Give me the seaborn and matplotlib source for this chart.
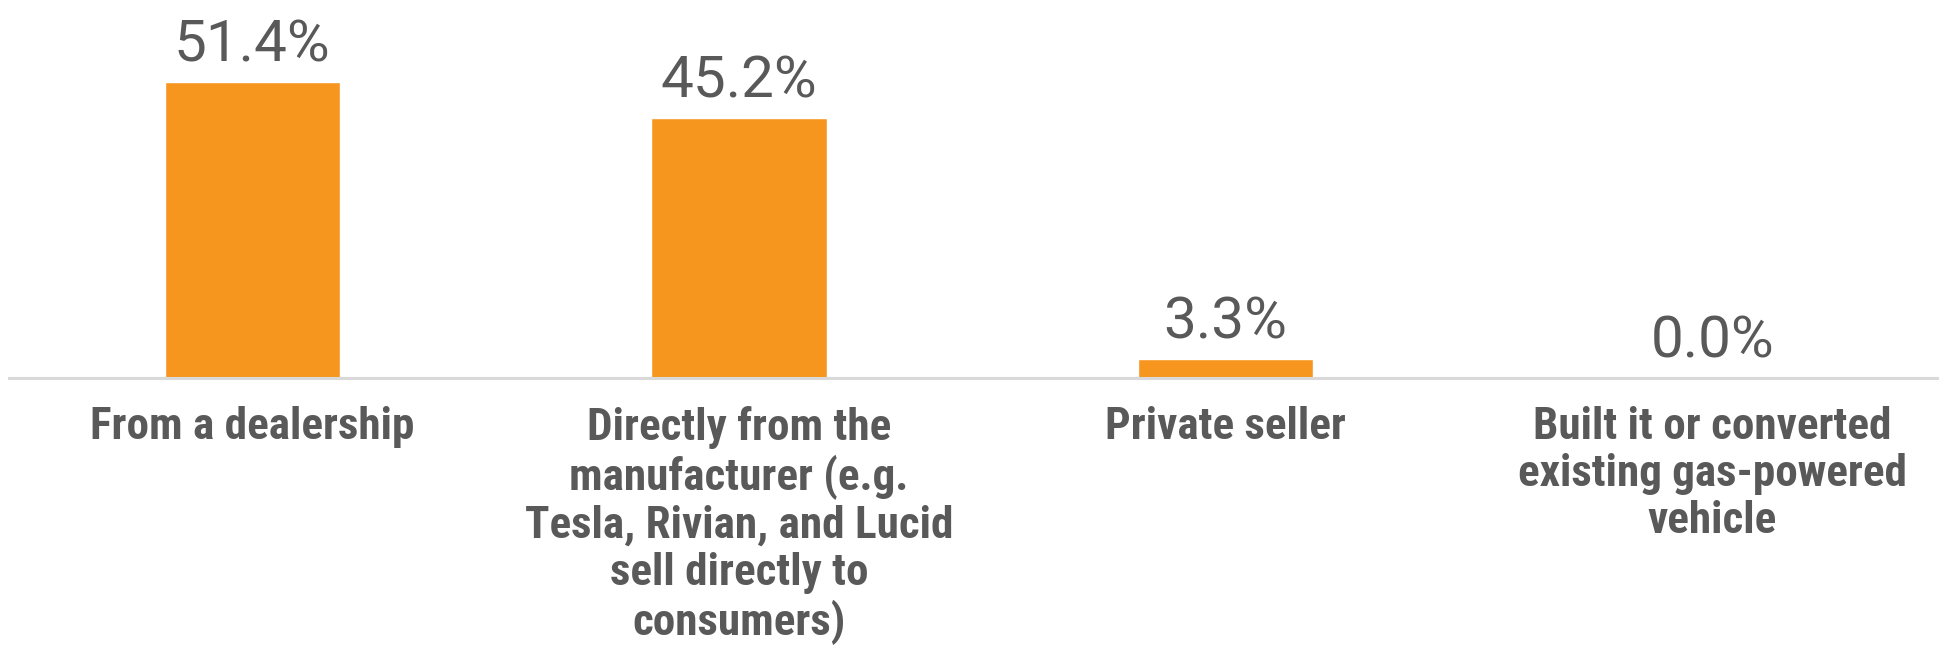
import matplotlib
matplotlib.use("Agg")
import matplotlib.pyplot as plt
from matplotlib import font_manager
import seaborn as sns
import pandas as pd

categories = [
    "From a dealership",
    "Directly from the manufacturer (e.g. Tesla, Rivian, and Lucid sell directly to consumers)",
    "Private seller",
    "Built it or converted existing gas-powered vehicle",
]
tick_labels = [
    "From a dealership",
    "Directly from the\nmanufacturer (e.g.\nTesla, Rivian, and Lucid\nsell directly to\nconsumers)",
    "Private seller",
    "Built it or converted\nexisting gas-powered\nvehicle",
]
shares = [51.4, 45.2, 3.3, 0.0]

sns.set_theme(style="white")
installed = {f.name for f in font_manager.fontManager.ttflist}
label_family = [f for f in ["Roboto Condensed", "Liberation Sans Narrow", "Roboto"] if f in installed]
plt.rcParams["font.family"] = ["Roboto", "DejaVu Sans"]

df = pd.DataFrame({"category": categories, "share": shares})

fig = plt.figure(figsize=(19.39, 6.64), dpi=100)
ax = fig.add_axes([9 / 1939, 1 - 378 / 664, 1 - 9 / 1939, 378 / 664])

sns.barplot(data=df, x="category", y="share", color="#F7961E", saturation=1,
            width=0.36, ax=ax)

ax.set_xlim(-0.5, 3.466)
ax.set_ylim(0, 65.6)

for c in ax.containers:
    ax.bar_label(c, fmt="%.1f%%", padding=6, fontsize=42, color="#595959")

ax.set_xticks(range(len(tick_labels)))
ax.set_xticklabels(tick_labels, fontsize=32.5, fontweight="bold", color="#595959",
                   family=label_family + ["DejaVu Sans"], linespacing=1.16,
                   va="top", ha="center")
ax.tick_params(axis="x", length=0, pad=20)
ax.set_yticks([])
ax.set_xlabel("")
ax.set_ylabel("")

for side in ["top", "right", "left"]:
    ax.spines[side].set_visible(False)
ax.spines["bottom"].set_color("#D9D9D9")
ax.spines["bottom"].set_linewidth(2.2)

fig.savefig("out.png", dpi=100, facecolor="white")
